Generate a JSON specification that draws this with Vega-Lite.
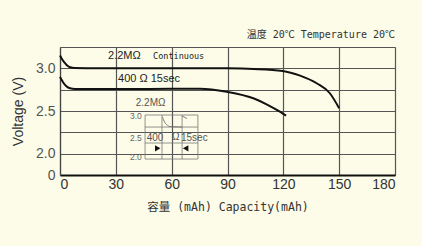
{
  "$schema": "https://vega.github.io/schema/vega-lite/v6.json",
  "width": 335,
  "height": 128,
  "autosize": {"type": "none"},
  "padding": {"left": 60, "top": 47, "right": 27, "bottom": 71},
  "background": "#fcfce8",
  "title": {
    "text": "温度 20℃ Temperature 20℃",
    "anchor": "end",
    "frame": "group",
    "font": "DejaVu Sans Mono, Noto Sans CJK SC",
    "fontSize": 10,
    "fontWeight": "normal",
    "color": "#333",
    "offset": 7
  },
  "datasets": {
    "curves": [
      {"series": "2.2MΩ Continuous", "x": 0, "y": 3.15},
      {"series": "2.2MΩ Continuous", "x": 1.3, "y": 3.10},
      {"series": "2.2MΩ Continuous", "x": 2.7, "y": 3.06},
      {"series": "2.2MΩ Continuous", "x": 4, "y": 3.03},
      {"series": "2.2MΩ Continuous", "x": 5.4, "y": 3.012},
      {"series": "2.2MΩ Continuous", "x": 8, "y": 3.003},
      {"series": "2.2MΩ Continuous", "x": 20, "y": 3.0},
      {"series": "2.2MΩ Continuous", "x": 50, "y": 3.0},
      {"series": "2.2MΩ Continuous", "x": 75, "y": 3.002},
      {"series": "2.2MΩ Continuous", "x": 89.6, "y": 3.0},
      {"series": "2.2MΩ Continuous", "x": 103.9, "y": 2.992},
      {"series": "2.2MΩ Continuous", "x": 119.6, "y": 2.969},
      {"series": "2.2MΩ Continuous", "x": 129, "y": 2.914},
      {"series": "2.2MΩ Continuous", "x": 137.9, "y": 2.825},
      {"series": "2.2MΩ Continuous", "x": 145, "y": 2.708},
      {"series": "2.2MΩ Continuous", "x": 150, "y": 2.532},
      {"series": "400Ω 15sec", "x": 0, "y": 2.90},
      {"series": "400Ω 15sec", "x": 1.3, "y": 2.85},
      {"series": "400Ω 15sec", "x": 2.7, "y": 2.805},
      {"series": "400Ω 15sec", "x": 4, "y": 2.78},
      {"series": "400Ω 15sec", "x": 5.4, "y": 2.766},
      {"series": "400Ω 15sec", "x": 8, "y": 2.758},
      {"series": "400Ω 15sec", "x": 30, "y": 2.757},
      {"series": "400Ω 15sec", "x": 60, "y": 2.76},
      {"series": "400Ω 15sec", "x": 75.2, "y": 2.762},
      {"series": "400Ω 15sec", "x": 89.6, "y": 2.726},
      {"series": "400Ω 15sec", "x": 103.9, "y": 2.649},
      {"series": "400Ω 15sec", "x": 111, "y": 2.578},
      {"series": "400Ω 15sec", "x": 116.5, "y": 2.512},
      {"series": "400Ω 15sec", "x": 121.5, "y": 2.445}
    ],
    "insetGrid": [
      {"x": 45.7, "x2": 45.7, "y": 1.937, "y2": 2.453},
      {"x": 54.8, "x2": 54.8, "y": 1.937, "y2": 2.453},
      {"x": 65.6, "x2": 65.6, "y": 1.937, "y2": 2.453},
      {"x": 74.1, "x2": 74.1, "y": 1.937, "y2": 2.453},
      {"x": 45.7, "x2": 74.1, "y": 2.453, "y2": 2.453},
      {"x": 45.7, "x2": 74.1, "y": 2.312, "y2": 2.312},
      {"x": 45.7, "x2": 74.1, "y": 2.125, "y2": 2.125},
      {"x": 45.7, "x2": 74.1, "y": 1.937, "y2": 1.937}
    ],
    "pulse": [
      {"part": "a", "x": 55.07, "y": 2.43},
      {"part": "a", "x": 55.88, "y": 2.383},
      {"part": "a", "x": 57.22, "y": 2.342},
      {"part": "a", "x": 59.1, "y": 2.318},
      {"part": "a", "x": 65.55, "y": 2.312},
      {"part": "b", "x": 65.55, "y": 2.441},
      {"part": "b", "x": 68.24, "y": 2.412}
    ],
    "arrows": [
      {"dir": "triangle-right", "x": 52.5, "y": 2.063},
      {"dir": "triangle-left", "x": 67.5, "y": 2.063}
    ],
    "labels": [
      {"group": "main", "label": "2.2MΩ", "x": 25.8, "y": 3.148},
      {"group": "main", "label": "400 Ω 15sec", "x": 31.2, "y": 2.875},
      {"group": "mono", "label": "Continuous", "x": 50.0, "y": 3.148},
      {"group": "inset", "label": "2.2MΩ", "x": 40.7, "y": 2.59},
      {"group": "insetnum", "label": "3.0", "x": 37.6, "y": 2.445},
      {"group": "insetnum", "label": "2.5", "x": 37.6, "y": 2.187},
      {"group": "insetnum", "label": "2.0", "x": 37.6, "y": 1.957},
      {"group": "inset", "label": "400", "x": 46.6, "y": 2.18},
      {"group": "inset", "label": "Ω", "x": 60.2, "y": 2.19},
      {"group": "inset", "label": "15sec", "x": 65.0, "y": 2.18}
    ]
  },
  "encoding": {
    "x": {
      "field": "x", "type": "quantitative",
      "scale": {"domain": [0, 180], "nice": false, "zero": false},
      "axis": {
        "values": [0, 30, 60, 90, 120, 150, 180],
        "title": "容量  (mAh) Capacity(mAh)",
        "titleFont": "DejaVu Sans Mono, Noto Sans CJK SC",
        "titleFontSize": 11.5,
        "titleFontWeight": "normal",
        "titleColor": "#333",
        "titlePadding": 10,
        "labelFont": "Liberation Sans",
        "labelFontSize": 14,
        "labelColor": "#333",
        "labelPadding": 2,
        "ticks": false,
        "grid": true,
        "gridColor": "#555",
        "gridWidth": 1.2,
        "gridOpacity": 1,
        "domainColor": "#111",
        "domainWidth": 1.8
      }
    },
    "y": {
      "field": "y", "type": "quantitative",
      "scale": {"domain": [1.75, 3.25], "nice": false, "zero": false},
      "axis": {
        "values": [1.75, 2, 2.25, 2.5, 2.75, 3, 3.25],
        "labelExpr": "datum.value == 1.75 ? '0' : (datum.value == 2 || datum.value == 2.5 || datum.value == 3) ? format(datum.value, '.1f') : ''",
        "title": "Voltage (V)",
        "titleFont": "Liberation Sans",
        "titleFontSize": 14,
        "titleFontWeight": "normal",
        "titleColor": "#333",
        "titlePadding": 10,
        "labelFont": "Liberation Sans",
        "labelFontSize": 14,
        "labelColor": "#555",
        "labelPadding": 5,
        "labelBound": false,
        "ticks": false,
        "grid": true,
        "gridColor": "#555",
        "gridWidth": 1.2,
        "gridOpacity": 1,
        "domainColor": "#444",
        "domainWidth": 1.2
      }
    }
  },
  "layer": [
    {
      "data": {"name": "insetGrid"},
      "mark": {"type": "rule", "color": "#777", "strokeWidth": 0.8},
      "encoding": {"x2": {"field": "x2"}, "y2": {"field": "y2"}}
    },
    {
      "data": {"name": "pulse"},
      "mark": {"type": "line", "color": "#666", "strokeWidth": 0.8, "interpolate": "monotone"},
      "encoding": {"detail": {"field": "part"}}
    },
    {
      "data": {"name": "curves"},
      "mark": {"type": "line", "color": "#111", "strokeWidth": 2, "interpolate": "monotone"},
      "encoding": {"detail": {"field": "series"}}
    },
    {
      "data": {"name": "arrows"},
      "mark": {"type": "point", "filled": true, "color": "#111", "size": 40, "opacity": 1},
      "encoding": {"shape": {"field": "dir", "type": "nominal", "scale": null}}
    },
    {
      "data": {"name": "labels"},
      "transform": [{"filter": "datum.group == 'main'"}],
      "mark": {"type": "text", "align": "left", "baseline": "middle", "font": "Liberation Sans", "fontSize": 11, "color": "#222"},
      "encoding": {"text": {"field": "label"}}
    },
    {
      "data": {"name": "labels"},
      "transform": [{"filter": "datum.group == 'mono'"}],
      "mark": {"type": "text", "align": "left", "baseline": "middle", "font": "DejaVu Sans Mono", "fontSize": 8.5, "color": "#222"},
      "encoding": {"text": {"field": "label"}}
    },
    {
      "data": {"name": "labels"},
      "transform": [{"filter": "datum.group == 'inset'"}],
      "mark": {"type": "text", "align": "left", "baseline": "middle", "font": "Liberation Sans", "fontSize": 10, "color": "#555"},
      "encoding": {"text": {"field": "label"}}
    },
    {
      "data": {"name": "labels"},
      "transform": [{"filter": "datum.group == 'insetnum'"}],
      "mark": {"type": "text", "align": "left", "baseline": "middle", "font": "Liberation Sans", "fontSize": 8.5, "color": "#666"},
      "encoding": {"text": {"field": "label"}}
    }
  ]
}
